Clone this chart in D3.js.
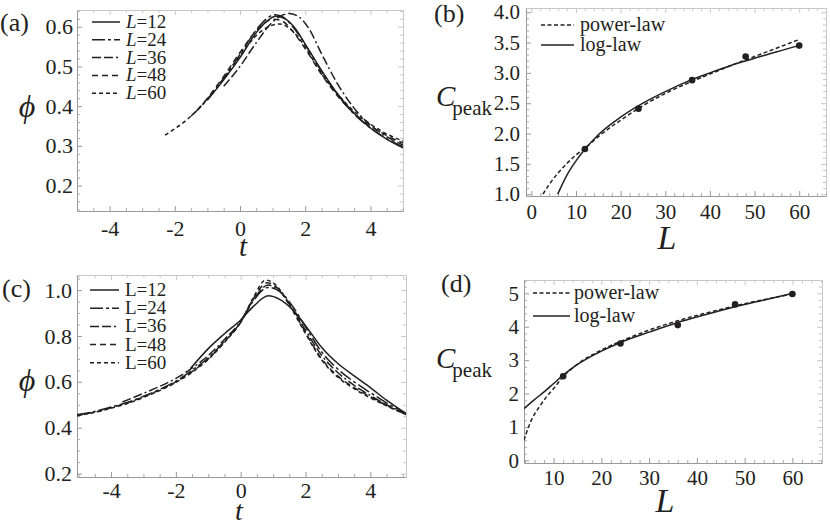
<!DOCTYPE html>
<html>
<head>
<meta charset="UTF-8" />
<title>phi and Cpeak</title>
<style>
  body { margin: 0; background: #fff; }
  svg { display: block; }
  svg text { font-family: 'Liberation Serif', 'DejaVu Serif', 'Times New Roman', Times, serif; }
</style>
</head>
<body>
<svg id="chart" width="830" height="526"></svg>
<script src="https://d3js.org/d3.v7.min.js"></script>
<script>
// ---- data ----
const sizes = [12, 24, 36, 48, 60];

// (a) phi(t), italic legend
const aL12 = [[-1.0,0.415],[-0.5,0.466],[0,0.522],[0.5,0.585],[0.8,0.612],[1.1,0.626],[1.4,0.619],[1.7,0.595],[2.0,0.556],[2.5,0.49],[3.0,0.43],[3.5,0.382],[4.0,0.345],[4.5,0.317],[5.0,0.295]];
const aL24 = [[-1.5,0.375],[-1,0.417],[-0.5,0.47],[0,0.53],[0.5,0.592],[0.8,0.619],[1.05,0.63],[1.3,0.625],[1.6,0.602],[2,0.555],[2.5,0.487],[3,0.428],[3.5,0.38],[4,0.345],[4.5,0.318],[5,0.298]];
const aL36 = [[-0.5,0.45],[0,0.5],[0.5,0.56],[1.0,0.612],[1.3,0.629],[1.5,0.633],[1.8,0.625],[2.1,0.597],[2.5,0.532],[3,0.455],[3.5,0.395],[4,0.352],[4.5,0.323],[5,0.302]];
const aL48 = [[-1.3,0.39],[-1,0.42],[-0.5,0.475],[0,0.535],[0.5,0.59],[0.8,0.612],[1.0,0.619],[1.3,0.614],[1.6,0.59],[2,0.545],[2.5,0.48],[3,0.425],[3.5,0.382],[4,0.35],[4.5,0.326],[5,0.307]];
const aL60 = [[-2.3,0.327],[-2,0.343],[-1.5,0.375],[-1,0.418],[-0.5,0.47],[0,0.527],[0.5,0.578],[0.9,0.601],[1.2,0.607],[1.5,0.597],[1.8,0.572],[2.1,0.535],[2.5,0.482],[3,0.43],[3.5,0.387],[4,0.355],[4.5,0.33],[5,0.312]];

// (c) phi(t)
const cL12 = [[-1.55,0.658],[-1,0.745],[-0.5,0.81],[0,0.87],[0.4,0.93],[0.85,0.975],[1.2,0.96],[1.6,0.915],[2,0.845],[2.5,0.75],[3,0.68],[3.5,0.626],[4,0.575],[4.5,0.52],[5.1,0.462]];
const cL24 = [[-5.05,0.456],[-4.5,0.471],[-4,0.49],[-3.5,0.51],[-3,0.537],[-2.5,0.567],[-2,0.603],[-1.5,0.65],[-1,0.705],[-0.5,0.778],[0,0.86],[0.4,0.955],[0.85,1.012],[1.2,0.995],[1.6,0.93],[2,0.84],[2.5,0.73],[3,0.655],[3.5,0.6],[4,0.553],[4.5,0.508],[5.1,0.462]];
const cL36 = [[-3.65,0.512],[-3,0.55],[-2.5,0.58],[-2,0.615],[-1.5,0.66],[-1,0.715],[-0.5,0.785],[0,0.865],[0.4,0.96],[0.85,1.022],[1.2,0.995],[1.6,0.92],[2,0.825],[2.5,0.715],[3,0.64],[3.5,0.585],[4,0.54],[4.5,0.5],[5.1,0.46]];
const cL48 = [[-5.05,0.453],[-4.5,0.468],[-4,0.487],[-3.5,0.508],[-3,0.535],[-2.5,0.565],[-2,0.6],[-1.5,0.645],[-1,0.7],[-0.5,0.775],[0,0.86],[0.4,0.965],[0.82,1.032],[1.2,1.0],[1.6,0.915],[2,0.815],[2.5,0.7],[3,0.625],[3.5,0.575],[4,0.535],[4.5,0.497],[5.1,0.458]];
const cL60 = [[-5.05,0.452],[-4.5,0.467],[-4,0.485],[-3.5,0.505],[-3,0.532],[-2.5,0.562],[-2,0.597],[-1.5,0.642],[-1,0.698],[-0.5,0.772],[0,0.86],[0.4,0.97],[0.77,1.044],[1.1,1.02],[1.5,0.935],[2,0.81],[2.5,0.695],[3,0.62],[3.5,0.57],[4,0.53],[4.5,0.495],[5.1,0.457]];

// (b) Cpeak(L)
const bPeaks = [1.745, 2.41, 2.88, 3.27, 3.45];
const bPowerL = [2.6,4,6,8,10,12,15,20,25,30,35,40,45,50,55,60];
const bPowerC = [1.0,1.16,1.35,1.51,1.645,1.76,1.95,2.22,2.46,2.66,2.83,2.98,3.13,3.27,3.41,3.55];
const bLogL = [5.9,8,10,12,15,20,25,30,35,40,45,50,55,60];
const bLogC = [1.0,1.32,1.55,1.74,1.98,2.27,2.5,2.69,2.86,3.0,3.13,3.24,3.35,3.45];

// (d) Cpeak(L)
const dPeaks = [2.52, 3.5, 4.05, 4.67, 4.98];
const dPowerL = [3.8,4.5,5.5,7,8.5,10,12,15,20,25,30,36,40,45,50,55,60];
const dPowerC = [0.6,0.9,1.25,1.6,1.9,2.15,2.5,2.88,3.3,3.62,3.9,4.18,4.34,4.52,4.69,4.84,4.98];
const dLogL = [3.8,5,6,8,10,12,15,20,24,30,36,40,48,55,60];
const dLogC = [1.55,1.7,1.82,2.05,2.3,2.55,2.87,3.27,3.53,3.84,4.13,4.29,4.6,4.83,5.0];

// tick labels
const tTicks = [-4, -2, 0, 2, 4];
const aYTicks = [0.2, 0.3, 0.4, 0.5, 0.6];
const cYTicks = [0.2, 0.4, 0.6, 0.8, 1.0];
const bXTicks = [0, 10, 20, 30, 40, 50, 60];
const bYTicks = [1.0, 1.5, 2.0, 2.5, 3.0, 3.5, 4.0];
const dXTicks = [10, 20, 30, 40, 50, 60];
const dYTicks = [0, 1, 2, 3, 4, 5];

const dashes = ["none", "13,3,3,3", "9,3,9,3,2,3", "6,4", "4,3"];
const fitDash = ["4,2.5", "none"];

const SERIF = "'Liberation Serif', 'DejaVu Serif', 'Times New Roman', Times, serif";
const svg = d3.select("#chart");
const ink = "#231f20";

function txt(x, y, size) {
  return svg.append("text").attr("x", x).attr("y", y)
    .style("font-family", SERIF).attr("font-size", size).attr("fill", ink);
}

function frame(p) {
  const g = svg.append("g");
  const [x0, x1] = p.x.range(), [y0, y1] = p.y.range();
  const id = "clip" + p.name;
  svg.append("clipPath").attr("id", id).append("rect")
    .attr("x", x0).attr("y", y1).attr("width", x1 - x0).attr("height", y0 - y1);

  const fmtX = p.fmtX || (d => String(d));
  const fmtY = p.fmtY || (d => String(d));
  const inMinor = (maj, step, sc) => {
    const dm = sc.domain();
    return d3.range(Math.ceil(dm[0] / step) * step, dm[1] + 1e-9, step)
      .map(v => +v.toFixed(4))
      .filter(v => !maj.some(m => Math.abs(m - v) < 1e-6));
  };
  const xMinor = inMinor(p.xTicks, p.xMinorStep, p.x);
  const yMinor = inMinor(p.yTicks, p.yMinorStep, p.y);

  // top and right (light)
  g.append("g").attr("transform", `translate(0,${y1})`)
    .call(d3.axisTop(p.x).tickValues(p.xTicks).tickSizeInner(-5).tickSizeOuter(0).tickFormat(""))
    .call(a => a.select(".domain").attr("stroke", "#c8c8c8"))
    .call(a => a.selectAll("line").attr("stroke", "#c8c8c8"));
  g.append("g").attr("transform", `translate(0,${y1})`)
    .call(d3.axisTop(p.x).tickValues(xMinor).tickSizeInner(-3).tickSizeOuter(0).tickFormat(""))
    .call(a => a.select(".domain").remove())
    .call(a => a.selectAll("line").attr("stroke", "#c8c8c8"));
  g.append("g").attr("transform", `translate(${x1},0)`)
    .call(d3.axisRight(p.y).tickValues(p.yTicks).tickSizeInner(-5).tickSizeOuter(0).tickFormat(""))
    .call(a => a.select(".domain").attr("stroke", "#c8c8c8"))
    .call(a => a.selectAll("line").attr("stroke", "#c8c8c8"));
  g.append("g").attr("transform", `translate(${x1},0)`)
    .call(d3.axisRight(p.y).tickValues(yMinor).tickSizeInner(-3).tickSizeOuter(0).tickFormat(""))
    .call(a => a.select(".domain").remove())
    .call(a => a.selectAll("line").attr("stroke", "#c8c8c8"));

  // bottom and left
  g.append("g").attr("transform", `translate(0,${y0})`)
    .call(d3.axisBottom(p.x).tickValues(p.xTicks).tickSizeInner(-5).tickSizeOuter(0)
      .tickPadding(p.xPad).tickFormat(fmtX))
    .call(a => a.select(".domain").attr("stroke", "#999"))
    .call(a => a.selectAll("line").attr("stroke", "#999"))
    .call(a => a.selectAll("text").style("font-family", SERIF).attr("font-size", p.tickFont));
  g.append("g").attr("transform", `translate(0,${y0})`)
    .call(d3.axisBottom(p.x).tickValues(xMinor).tickSizeInner(-3).tickSizeOuter(0).tickFormat(""))
    .call(a => a.select(".domain").remove())
    .call(a => a.selectAll("line").attr("stroke", "#aaa"));
  g.append("g").attr("transform", `translate(${x0},0)`)
    .call(d3.axisLeft(p.y).tickValues(p.yTicks).tickSizeInner(-5).tickSizeOuter(0)
      .tickPadding(p.yPad).tickFormat(fmtY))
    .call(a => a.select(".domain").attr("stroke", "#999"))
    .call(a => a.selectAll("line").attr("stroke", "#999"))
    .call(a => a.selectAll("text").style("font-family", SERIF).attr("font-size", p.tickFont));
  g.append("g").attr("transform", `translate(${x0},0)`)
    .call(d3.axisLeft(p.y).tickValues(yMinor).tickSizeInner(-3).tickSizeOuter(0).tickFormat(""))
    .call(a => a.select(".domain").remove())
    .call(a => a.selectAll("line").attr("stroke", "#aaa"));

  g.selectAll(".tick text").attr("fill", ink);
  return "url(#" + id + ")";
}

function drawLine(p, clip, pts, dash) {
  const line = d3.line().x(d => p.x(d[0])).y(d => p.y(d[1])).curve(d3.curveMonotoneX);
  svg.append("path").datum(pts)
    .attr("clip-path", clip)
    .attr("d", line)
    .attr("fill", "none")
    .attr("stroke", ink)
    .attr("stroke-width", 1.5)
    .attr("stroke-dasharray", dash);
}

function cpeak(x, y, cSize, sSize) {
  const t = txt(x, y, cSize);
  t.append("tspan").attr("font-style", "italic").text("C");
  t.append("tspan").attr("font-size", sSize).attr("dy", 9).attr("dx", -3).text("peak");
}

// ---- panel (a) ----
const pA = {
  name: "A",
  x: d3.scaleLinear().domain([-5, 5]).range([77, 403]),
  y: d3.scaleLinear().domain([0.136, 0.642]).range([211, 10]),
  xTicks: tTicks, yTicks: aYTicks, xMinorStep: 0.5, yMinorStep: 0.02,
  xPad: 9, yPad: 4, tickFont: 22, fmtY: d3.format(".1f")
};
const clipA = frame(pA);
[aL12, aL24, aL36, aL48, aL60].forEach((c, i) => drawLine(pA, clipA, c, dashes[i]));

// ---- panel (c) ----
const pC = {
  name: "C",
  x: d3.scaleLinear().domain([-5.05, 5.1]).range([77, 406]),
  y: d3.scaleLinear().domain([0.185, 1.066]).range([477, 275]),
  xTicks: tTicks, yTicks: cYTicks, xMinorStep: 0.5, yMinorStep: 0.05,
  xPad: 5, yPad: 5, tickFont: 22, fmtY: d3.format(".1f")
};
const clipC = frame(pC);
[cL12, cL24, cL36, cL48, cL60].forEach((c, i) => drawLine(pC, clipC, c, dashes[i]));

// ---- panel (b) ----
const pB = {
  name: "B",
  x: d3.scaleLinear().domain([-1.2, 66]).range([526, 826]),
  y: d3.scaleLinear().domain([0.97, 4.07]).range([196, 8]),
  xTicks: bXTicks, yTicks: bYTicks, xMinorStep: 2, yMinorStep: 0.1,
  xPad: 8, yPad: 6, tickFont: 21, fmtY: d3.format(".1f")
};
const clipB = frame(pB);
drawLine(pB, clipB, bPowerL.map((l, i) => [l, bPowerC[i]]), fitDash[0]);
drawLine(pB, clipB, bLogL.map((l, i) => [l, bLogC[i]]), fitDash[1]);
svg.append("g").selectAll("circle").data(sizes).join("circle")
  .attr("cx", d => pB.x(d)).attr("cy", (d, i) => pB.y(bPeaks[i])).attr("r", 3.3).attr("fill", ink);

// ---- panel (d) ----
const pD = {
  name: "D",
  x: d3.scaleLinear().domain([3.8, 66.2]).range([524, 822]),
  y: d3.scaleLinear().domain([-0.08, 5.4]).range([463, 280]),
  xTicks: dXTicks, yTicks: dYTicks, xMinorStep: 2, yMinorStep: 0.2,
  xPad: 7, yPad: 5, tickFont: 21
};
const clipD = frame(pD);
drawLine(pD, clipD, dPowerL.map((l, i) => [l, dPowerC[i]]), fitDash[0]);
drawLine(pD, clipD, dLogL.map((l, i) => [l, dLogC[i]]), fitDash[1]);
svg.append("g").selectAll("circle").data(sizes).join("circle")
  .attr("cx", d => pD.x(d)).attr("cy", (d, i) => pD.y(dPeaks[i])).attr("r", 3.3).attr("fill", ink);

// ---- legends ----
sizes.forEach((s, i) => {
  const ya = 22 + i * 17.8;
  svg.append("line").attr("x1", 92).attr("x2", 120).attr("y1", ya).attr("y2", ya)
    .attr("stroke", ink).attr("stroke-width", 1.5).attr("stroke-dasharray", dashes[i]);
  const ta = txt(126, ya + 6, 19);
  ta.append("tspan").attr("font-style", "italic").text("L");
  ta.append("tspan").text("=" + s);

  const yc = 290 + i * 18.2;
  svg.append("line").attr("x1", 90).attr("x2", 119).attr("y1", yc).attr("y2", yc)
    .attr("stroke", ink).attr("stroke-width", 1.5).attr("stroke-dasharray", dashes[i]);
  txt(125, yc + 6, 19).text("L=" + s);
});

const fitNames = ["power-law", "log-law"];
fitNames.forEach((n, i) => {
  const yb = 25 + i * 20;
  svg.append("line").attr("x1", 541).attr("x2", 574).attr("y1", yb).attr("y2", yb)
    .attr("stroke", ink).attr("stroke-width", 1.4).attr("stroke-dasharray", fitDash[i]);
  txt(580, yb + 6, 20).text(n);

  const yd = 293 + i * 23;
  svg.append("line").attr("x1", 533).attr("x2", 570).attr("y1", yd).attr("y2", yd)
    .attr("stroke", ink).attr("stroke-width", 1.4).attr("stroke-dasharray", fitDash[i]);
  txt(574, yd + 6, 20).text(n);
});

// ---- axis titles and panel letters ----
txt(0, 31, 26).text("(a)");
txt(434, 22, 26).text("(b)");
txt(2, 297, 26).text("(c)");
txt(441, 292, 26).text("(d)");

txt(27, 117, 32).attr("text-anchor", "middle").attr("font-style", "italic").text("ϕ");
txt(27, 391, 32).attr("text-anchor", "middle").attr("font-style", "italic").text("ϕ");
txt(243, 256, 29).attr("text-anchor", "middle").attr("font-style", "italic").text("t");
txt(239, 520, 28).attr("text-anchor", "middle").attr("font-style", "italic").text("t");
txt(667, 249, 34).attr("text-anchor", "middle").attr("font-style", "italic").text("L");
txt(665, 512, 34).attr("text-anchor", "middle").attr("font-style", "italic").text("L");
cpeak(436, 106, 29, 21);
cpeak(436, 368, 29, 21);
</script>
</body>
</html>
